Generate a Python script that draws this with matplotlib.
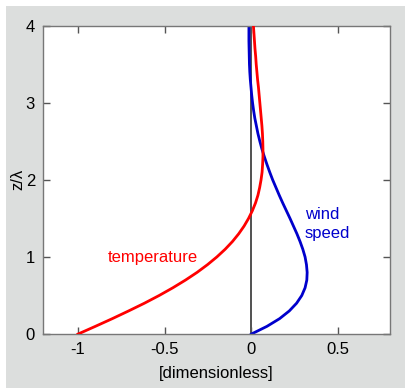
import matplotlib.pyplot as plt
from matplotlib.patches import Rectangle

plt.rcParams['font.family'] = ['Liberation Sans', 'DejaVu Sans']

# heights z/lambda
z = [0.0, 0.1, 0.2, 0.3, 0.4, 0.5, 0.6, 0.7, 0.8, 0.9,
     1.0, 1.1, 1.2, 1.3, 1.4, 1.5, 1.6, 1.7, 1.8, 1.9,
     2.0, 2.1, 2.2, 2.3, 2.4, 2.5, 2.6, 2.7, 2.8, 2.9,
     3.0, 3.1, 3.2, 3.3, 3.4, 3.5, 3.6, 3.7, 3.8, 3.9, 4.0]
# temperature profile
temp = [-1.000, -0.900, -0.802, -0.708, -0.617, -0.532, -0.453, -0.380, -0.313, -0.253,
        -0.199, -0.151, -0.109, -0.073, -0.042, -0.016, 0.006, 0.024, 0.038, 0.048,
        0.056, 0.062, 0.065, 0.067, 0.067, 0.066, 0.064, 0.061, 0.057, 0.053,
        0.049, 0.045, 0.041, 0.036, 0.032, 0.028, 0.025, 0.021, 0.018, 0.015, 0.012]
# wind speed profile
wind = [0.000, 0.090, 0.163, 0.219, 0.261, 0.291, 0.310, 0.320, 0.322, 0.318,
        0.310, 0.297, 0.281, 0.263, 0.243, 0.223, 0.202, 0.181, 0.161, 0.142,
        0.123, 0.106, 0.090, 0.075, 0.061, 0.049, 0.038, 0.029, 0.020, 0.013,
        0.007, 0.002, -0.002, -0.006, -0.009, -0.011, -0.012, -0.013, -0.014, -0.014, -0.014]

xticks = [-1, -0.5, 0, 0.5]
xlabels = ['-1', '-0.5', '0', '0.5']
yticks = [0, 1, 2, 3, 4]

fig = plt.figure(figsize=(4.05, 3.88), dpi=100)
fig.patch.set_facecolor('white')
# gray panel behind the plot
panel = Rectangle((6 / 405, 0), 1, 1 - 6 / 388, transform=fig.transFigure,
                  facecolor='#dcdedd', edgecolor='none', zorder=-10)
fig.add_artist(panel)

ax = fig.add_axes([0.107, 0.139, 0.856, 0.795])
ax.set_facecolor('white')
ax.axvline(0, color='#333333', lw=1.2, zorder=1)
ax.plot(temp, z, color='#ff0000', lw=2.0, zorder=3)
ax.plot(wind, z, color='#0000cc', lw=2.0, zorder=2)

ax.text(-0.57, 0.99, 'temperature', color='#ff0000', fontsize=12, ha='center', va='center')
ax.text(0.31, 1.43, 'wind\nspeed', color='#0000cc', fontsize=12, ha='left', va='center',
        linespacing=1.3)

ax.set_xlim(-1.2, 0.8)
ax.set_ylim(0, 4)
ax.set_xticks(xticks)
ax.set_xticklabels(xlabels)
ax.set_yticks(yticks)
for s in ax.spines.values():
    s.set_color('#777777')
    s.set_linewidth(1.0)
ax.tick_params(direction='in', length=5, width=1, color='#555555', top=True, right=True,
               labelsize=12, pad=6)
ax.set_xlabel('[dimensionless]', fontsize=12, labelpad=6)
ax.set_ylabel('z/\u03bb', fontsize=12, labelpad=0)

fig.savefig('out.png', dpi=100, facecolor=fig.get_facecolor())
